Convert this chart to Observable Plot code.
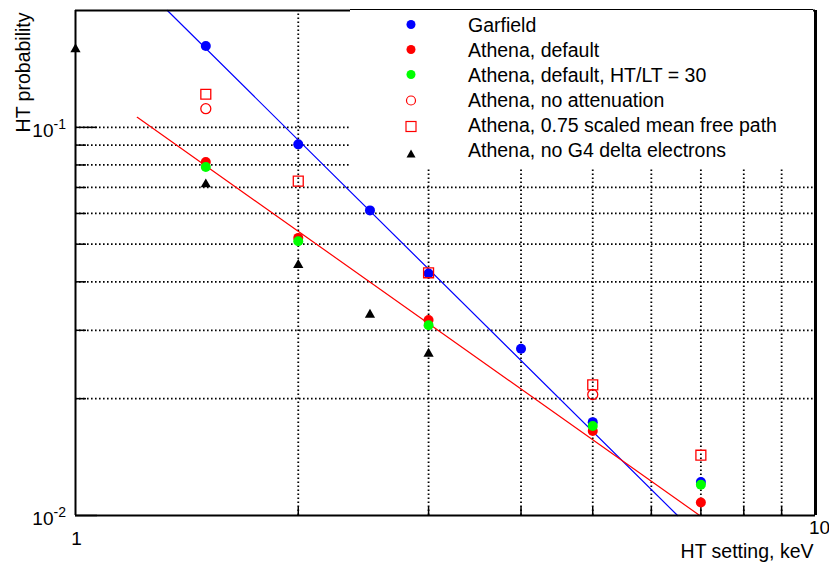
<!DOCTYPE html>
<html>
<head>
<meta charset="utf-8">
<script src="https://cdn.jsdelivr.net/npm/d3@7"></script>
<script src="https://cdn.jsdelivr.net/npm/@observablehq/plot@0.6"></script>
<style>
  body { margin: 0; background: #fff; }
  #chart { position: relative; width: 829px; height: 563px; font-family: "Liberation Sans", Arial, Helvetica, sans-serif; }
  #legend { position: absolute; left: 350px; top: 9px; width: 463px; height: 159px; background: #fff; border-top: 1px solid #000; }
</style>
</head>
<body>
<div id="chart"></div>
<script>
// HT probability vs HT setting (keV), log-log

const garfieldX = [1.5, 2, 2.5, 3, 4, 5, 7];
const garfieldY = [0.162, 0.0904, 0.0611, 0.0420, 0.0269, 0.0174, 0.0122];

const defaultX = [1.5, 2, 3, 5, 7];
const defaultY = [0.0814, 0.0519, 0.0319, 0.0165, 0.0108];

const ratio30X = [1.5, 2, 3, 5, 7];
const ratio30Y = [0.0790, 0.0509, 0.0309, 0.0170, 0.0120];

const noAttenX = [1.5, 5];
const noAttenY = [0.1117, 0.0205];

const scaledX = [1.5, 2, 3, 5, 7];
const scaledY = [0.1217, 0.0727, 0.0422, 0.0217, 0.0143];

const noDeltaX = [1, 1.5, 2, 2.5, 3];
const noDeltaY = [0.159, 0.0713, 0.0442, 0.0329, 0.0261];

// power-law fits, end points
const garfieldFitX = [1.331, 6.51];
const garfieldFitY = [0.2, 0.01];
const defaultFitX = [1.212, 6.975];
const defaultFitY = [0.1061, 0.01];

// axes
const xDomain = [1, 10];
const yDomain = [0.01, 0.2];
const xGrid = [2, 3, 4, 5, 6, 7, 8, 9];
const yGrid = [0.02, 0.03, 0.04, 0.05, 0.06, 0.07, 0.08, 0.09, 0.1];
const yMinorTicks = [0.02, 0.03, 0.04, 0.05, 0.06, 0.07, 0.08, 0.09];
const yMajorTicks = [0.01, 0.1];
const yMajorBase = ["10", "10"];
const yMajorExp = ["-2", "-1"];
const xTickLabels = ["1", "10"];
const xTickValues = [1, 10];

const legendLabels = [
  "Garfield",
  "Athena, default",
  "Athena, default, HT/LT = 30",
  "Athena, no attenuation",
  "Athena, 0.75 scaled mean free path",
  "Athena, no G4 delta electrons"
];

const pts = (xs, ys) => xs.map((x, i) => ({x, y: ys[i]}));

const W = 829, H = 563, mL = 75, mR = 14, mT = 10, mB = 48;
const decadeX = (W - mL - mR);           // px per decade in x
const decadeY = (H - mT - mB) / Math.log10(yDomain[1] / yDomain[0]);
const xAt = px => Math.pow(10, px / decadeX);   // tick length → data factor
const yAt = px => Math.pow(10, px / decadeY);

const dotted = {stroke: "#000", strokeWidth: 1.8, strokeDasharray: "1.6,2.4"};
const font = "Liberation Sans, Arial, Helvetica, sans-serif";

const chart = Plot.plot({
  width: W, height: H,
  marginLeft: mL, marginRight: mR, marginTop: mT, marginBottom: mB,
  style: {fontFamily: font, background: "#fff", overflow: "visible"},
  x: {type: "log", domain: xDomain, axis: null},
  y: {type: "log", domain: yDomain, axis: null},
  marks: [
    // dotted grid
    Plot.ruleY(yGrid, {y: d => d, x1: xDomain[0], x2: xDomain[1], ...dotted}),
    Plot.ruleX(xGrid, {x: d => d, y1: yDomain[0], y2: yDomain[1], ...dotted}),

    // inner ticks
    Plot.ruleY(yMinorTicks, {y: d => d, x1: 1, x2: xAt(11), stroke: "#000", strokeWidth: 1.5}),
    Plot.ruleY(yMajorTicks, {y: d => d, x1: 1, x2: xAt(22), stroke: "#000", strokeWidth: 1.5}),
    Plot.ruleX(xGrid, {x: d => d, y1: yDomain[0], y2: yDomain[0] * yAt(8), stroke: "#000", strokeWidth: 1.5}),

    // fits
    Plot.line(pts(garfieldFitX, garfieldFitY), {x: "x", y: "y", stroke: "#0000ff", strokeWidth: 1.2}),
    Plot.line(pts(defaultFitX, defaultFitY), {x: "x", y: "y", stroke: "#ff0000", strokeWidth: 1.2}),

    // frame
    Plot.ruleY([yDomain[1]], {x1: xDomain[0], x2: xDomain[1], stroke: "#000", strokeWidth: 1.8}),
    Plot.ruleX([xDomain[0]], {y1: yDomain[0], y2: yDomain[1], stroke: "#000", strokeWidth: 2}),
    Plot.ruleY([yDomain[0]], {x1: xDomain[0], x2: xDomain[1], stroke: "#000", strokeWidth: 2.2}),
    Plot.ruleX([xDomain[1]], {y1: yDomain[0], y2: yDomain[1], stroke: "#000", strokeWidth: 3}),

    // data
    Plot.dot(pts(garfieldX, garfieldY), {x: "x", y: "y", r: 5, fill: "#0000ff", stroke: null}),
    Plot.dot(pts(defaultX, defaultY), {x: "x", y: "y", r: 5, fill: "#ff0000", stroke: null}),
    Plot.dot(pts(ratio30X, ratio30Y), {x: "x", y: "y", r: 5, fill: "#00ff00", stroke: null}),
    Plot.dot(pts(noAttenX, noAttenY), {x: "x", y: "y", r: 5, fill: "none", stroke: "#ff0000", strokeWidth: 1.3}),
    Plot.dot(pts(scaledX, scaledY), {x: "x", y: "y", r: 5.6, symbol: "square", fill: "none", stroke: "#ff0000", strokeWidth: 1.3}),
    Plot.dot(pts(noDeltaX, noDeltaY), {x: "x", y: "y", r: 3.8, symbol: "triangle", fill: "#000", stroke: null}),

    // y tick labels: base and exponent
    Plot.text(yMajorTicks, {x: 1, y: d => d, text: (d, i) => yMajorBase[i], textAnchor: "end", lineAnchor: "bottom", dx: -22, dy: 9.5, fontSize: 19, fill: "#000"}),
    Plot.text(yMajorTicks, {x: 1, y: d => d, text: (d, i) => yMajorExp[i], textAnchor: "start", lineAnchor: "bottom", dx: -22, dy: 1.5, fontSize: 14, fill: "#000"}),

    // x tick labels
    Plot.text([xTickValues[0]], {x: d => d, y: yDomain[0], text: [xTickLabels[0]], textAnchor: "middle", lineAnchor: "bottom", dx: 1, dy: 29, fontSize: 19, fill: "#000"}),
    Plot.text([xTickValues[1]], {x: d => d, y: yDomain[0], text: [xTickLabels[1]], textAnchor: "middle", lineAnchor: "bottom", dx: 4, dy: 18, fontSize: 19, fill: "#000"}),

    // axis titles
    Plot.text(["HT setting, keV"], {frameAnchor: "bottom-right", textAnchor: "end", lineAnchor: "bottom", dx: -2, dy: 42, fontSize: 19.5, fill: "#000"}),
    Plot.text(["HT probability"], {frameAnchor: "top-left", rotate: -90, textAnchor: "end", lineAnchor: "bottom", dx: -46, dy: 2, fontSize: 19.5, fill: "#000"})
  ]
});

const host = document.getElementById("chart");
host.appendChild(chart);

// legend box
const legend = d3.select(host).append("div").attr("id", "legend");
const lsvg = legend.append("svg").attr("width", 463).attr("height", 159)
  .style("font-family", font);
const markerX = 61, textX = 118, row0 = 14.5, rowStep = 25;
const markers = [
  {type: "dot", fill: "#0000ff"},
  {type: "dot", fill: "#ff0000"},
  {type: "dot", fill: "#00ff00"},
  {type: "circle", stroke: "#ff0000"},
  {type: "square", stroke: "#ff0000"},
  {type: "triangle", fill: "#000"}
];
legendLabels.forEach((label, i) => {
  const cy = row0 + i * rowStep;
  const m = markers[i];
  if (m.type === "dot") lsvg.append("circle").attr("cx", markerX).attr("cy", cy).attr("r", 4.5).attr("fill", m.fill);
  if (m.type === "circle") lsvg.append("circle").attr("cx", markerX).attr("cy", cy + 1).attr("r", 4.5).attr("fill", "none").attr("stroke", m.stroke).attr("stroke-width", 1.2);
  if (m.type === "square") lsvg.append("rect").attr("x", markerX - 5).attr("y", cy - 3).attr("width", 10).attr("height", 10).attr("fill", "none").attr("stroke", m.stroke).attr("stroke-width", 1.2);
  if (m.type === "triangle") lsvg.append("path").attr("d", `M${markerX},${cy} l4.5,8 l-9,0 z`).attr("fill", m.fill);
  lsvg.append("text").attr("x", textX).attr("y", cy + 7).attr("font-size", 19.5).attr("fill", "#000").text(label);
});
</script>
</body>
</html>
